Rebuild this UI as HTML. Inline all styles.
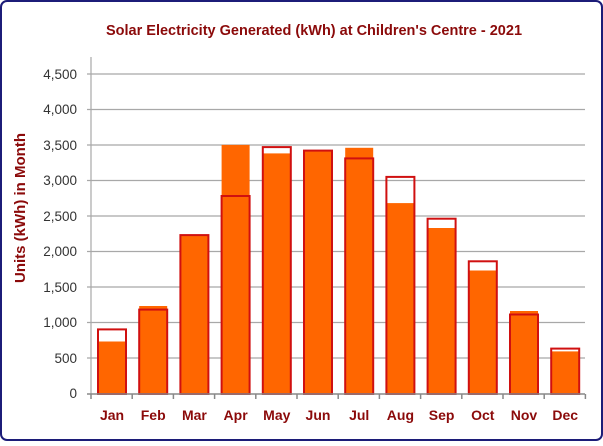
<!DOCTYPE html><html><head><style>body{margin:0;background:#fff}</style></head><body>
<svg width="603" height="441" xmlns="http://www.w3.org/2000/svg" font-family="Liberation Sans, sans-serif">
<rect x="1" y="1" width="601" height="439" rx="6" fill="#fff" stroke="#1c1c78" stroke-width="2"/>
<text x="314" y="35" text-anchor="middle" font-size="14.5" font-weight="bold" fill="#8b0a0a">Solar Electricity Generated (kWh) at Children's Centre - 2021</text>
<text transform="translate(25,208) rotate(-90)" text-anchor="middle" font-size="15" font-weight="bold" fill="#8b0a0a">Units (kWh) in Month</text>
<g stroke="#a8a8a8" stroke-width="1.2">
<line x1="87" y1="74" x2="585" y2="74"/><line x1="87" y1="109.5" x2="585" y2="109.5"/><line x1="87" y1="145" x2="585" y2="145"/><line x1="87" y1="180.5" x2="585" y2="180.5"/><line x1="87" y1="216" x2="585" y2="216"/><line x1="87" y1="251.5" x2="585" y2="251.5"/><line x1="87" y1="287" x2="585" y2="287"/><line x1="87" y1="322.5" x2="585" y2="322.5"/><line x1="87" y1="358" x2="585" y2="358"/>
<line x1="91" y1="57" x2="91" y2="394"/>
</g>
<g font-size="13.5" fill="#333" text-anchor="end">
<text x="77" y="79">4,500</text><text x="77" y="114">4,000</text><text x="77" y="150">3,500</text><text x="77" y="185">3,000</text><text x="77" y="221">2,500</text><text x="77" y="256">2,000</text><text x="77" y="292">1,500</text><text x="77" y="327">1,000</text><text x="77" y="363">500</text><text x="77" y="398">0</text>
</g>
<g fill="#ff6600">
<rect x="98" y="341.5" width="28" height="52.5"/>
<rect x="139.2" y="306" width="28" height="88"/>
<rect x="180.4" y="235.1" width="28" height="158.9"/>
<rect x="221.6" y="144.9" width="28" height="249.1"/>
<rect x="262.8" y="153.4" width="28" height="240.6"/>
<rect x="304" y="150.6" width="28" height="243.4"/>
<rect x="345.2" y="147.8" width="28" height="246.2"/>
<rect x="386.4" y="203.1" width="28" height="190.9"/>
<rect x="427.6" y="228" width="28" height="166"/>
<rect x="468.8" y="270.5" width="28" height="123.5"/>
<rect x="510" y="311" width="28" height="83"/>
<rect x="551.2" y="351.4" width="28" height="42.6"/>
</g>
<g fill="none" stroke="#d01010" stroke-width="2">
<rect x="98" y="329.4" width="28" height="64.6"/>
<rect x="139.2" y="309.6" width="28" height="84.4"/>
<rect x="180.4" y="235.1" width="28" height="158.9"/>
<rect x="221.6" y="196" width="28" height="198"/>
<rect x="262.8" y="147.1" width="28" height="246.9"/>
<rect x="304" y="150.6" width="28" height="243.4"/>
<rect x="345.2" y="158.4" width="28" height="235.6"/>
<rect x="386.4" y="176.9" width="28" height="217.1"/>
<rect x="427.6" y="218.7" width="28" height="175.3"/>
<rect x="468.8" y="261.3" width="28" height="132.7"/>
<rect x="510" y="314.5" width="28" height="79.5"/>
<rect x="551.2" y="348.6" width="28" height="45.4"/>
</g>
<g stroke="#888" stroke-width="1.5">
<line x1="87" y1="394" x2="585" y2="394"/>
<line x1="91" y1="394" x2="91" y2="399"/><line x1="132.2" y1="394" x2="132.2" y2="399"/><line x1="173.4" y1="394" x2="173.4" y2="399"/><line x1="214.6" y1="394" x2="214.6" y2="399"/><line x1="255.8" y1="394" x2="255.8" y2="399"/><line x1="297" y1="394" x2="297" y2="399"/><line x1="338.2" y1="394" x2="338.2" y2="399"/><line x1="379.4" y1="394" x2="379.4" y2="399"/><line x1="420.6" y1="394" x2="420.6" y2="399"/><line x1="461.8" y1="394" x2="461.8" y2="399"/><line x1="503" y1="394" x2="503" y2="399"/><line x1="544.2" y1="394" x2="544.2" y2="399"/><line x1="585.4" y1="394" x2="585.4" y2="399"/>
</g>
<g font-size="14" font-weight="bold" fill="#8b0a0a" text-anchor="middle">
<text x="112" y="420">Jan</text><text x="153.2" y="420">Feb</text><text x="194.4" y="420">Mar</text><text x="235.6" y="420">Apr</text><text x="276.8" y="420">May</text><text x="318" y="420">Jun</text><text x="359.2" y="420">Jul</text><text x="400.4" y="420">Aug</text><text x="441.6" y="420">Sep</text><text x="482.8" y="420">Oct</text><text x="524" y="420">Nov</text><text x="565.2" y="420">Dec</text>
</g>
</svg></body></html>
